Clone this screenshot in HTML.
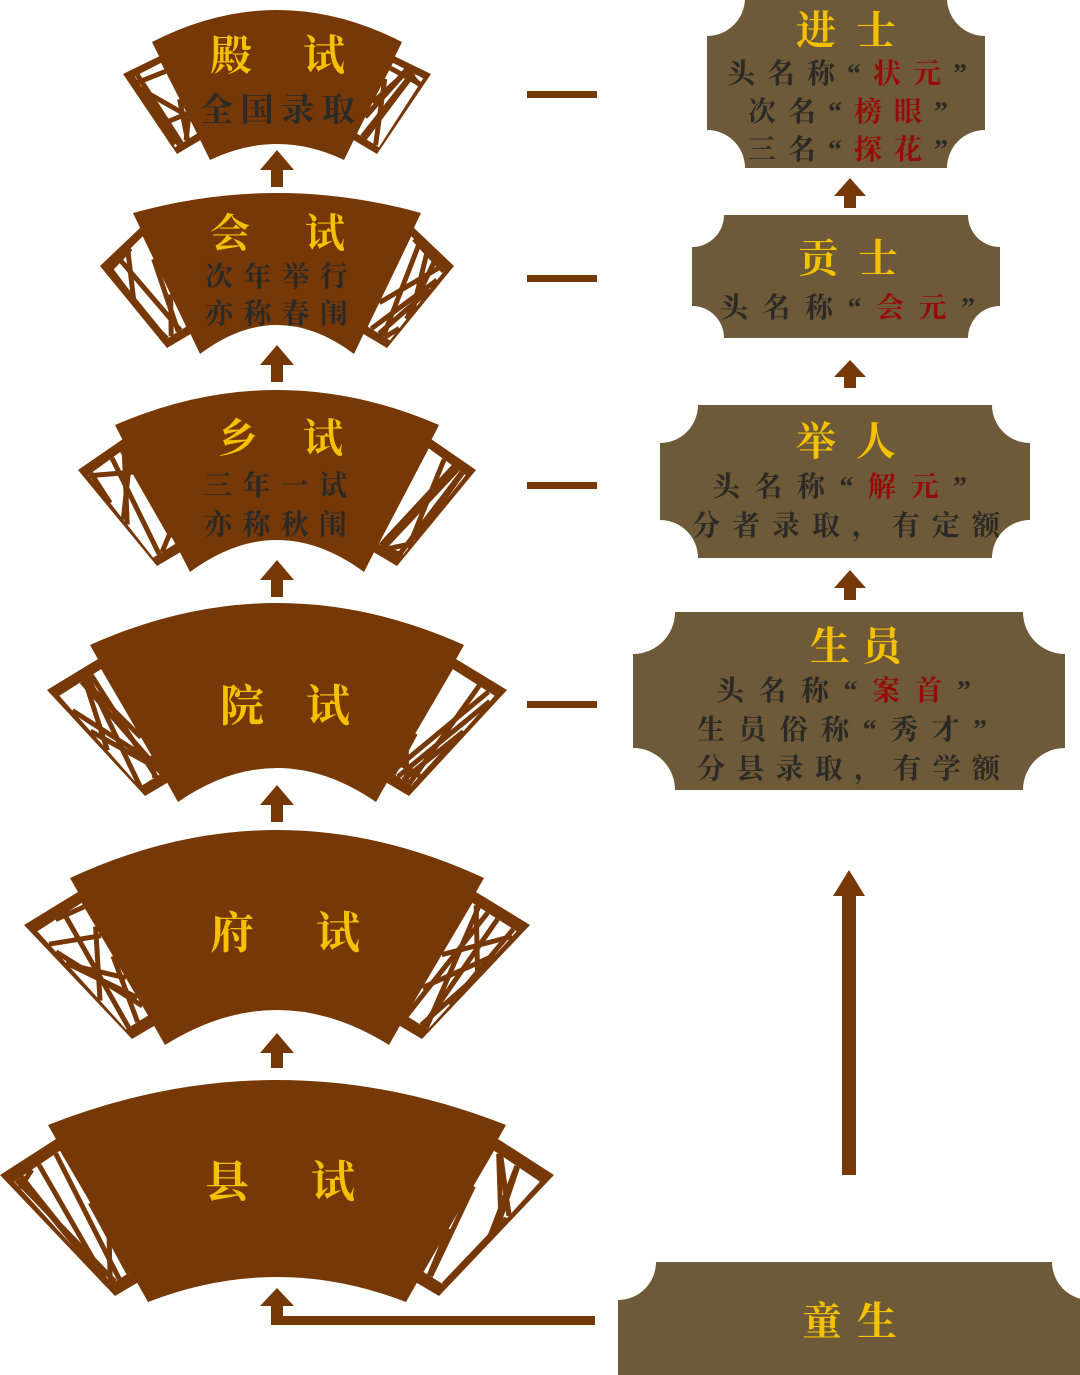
<!DOCTYPE html>
<html><head><meta charset="utf-8"><style>
html,body{margin:0;padding:0;background:#fff;}
svg{display:block;}
text{font-family:"Liberation Serif","Noto Serif CJK SC",serif;font-weight:bold;}
.y{fill:#f5c000;}
.d{fill:#2b2a26;}
.r{fill:#980a0a;}
</style></head><body>
<svg id="s" width="1080" height="1375" viewBox="0 0 1080 1375" xmlns="http://www.w3.org/2000/svg">
<g id="fans"></g>
<g fill="#763807">
<polygon points="277,150 294,170 283,170 283,187 271,187 271,170 260,170" />
<polygon points="277,345 294,365 283,365 283,382 271,382 271,365 260,365" />
<polygon points="277,560 294,580 283,580 283,597 271,597 271,580 260,580" />
<polygon points="277,785 294,805 283,805 283,822 271,822 271,805 260,805" />
<polygon points="277,1033 294,1053 283,1053 283,1068 271,1068 271,1053 260,1053" />
<polygon points="277,1288 294,1306 283,1306 283,1316 595,1316 595,1325 271,1325 271,1306 260,1306" />
<rect x="527" y="91" width="70" height="7"/>
<rect x="527" y="275" width="70" height="7"/>
<rect x="527" y="482" width="70" height="7"/>
<rect x="527" y="701" width="70" height="7"/>
<polygon points="850,178 866,196 856,196 856,208 844,208 844,196 834,196" />
<polygon points="850,360 866,377 856,377 856,388 844,388 844,377 834,377" />
<polygon points="850,570 866,588 856,588 856,600 844,600 844,588 834,588" />
<polygon points="849,870 865,896 856,896 856,1175 842,1175 842,896 833,896" />
</g>
<g fill="#6e5a38" id="boxes"></g>

<text class="y" x="210" y="70" font-size="42" textLength="135" lengthAdjust="spacing">殿试</text>
<text class="d" x="200" y="121" font-size="33" textLength="155" lengthAdjust="spacing">全国录取</text>
<text class="y" x="210" y="247" font-size="40" textLength="135" lengthAdjust="spacing">会试</text>
<text class="d" x="205" y="286" font-size="28" textLength="143" lengthAdjust="spacing">次年举行</text>
<text class="d" x="205" y="323" font-size="28" textLength="143" lengthAdjust="spacing">亦称春闱</text>
<text class="y" x="218" y="452" font-size="40" textLength="125" lengthAdjust="spacing">乡试</text>
<text class="d" x="204" y="495" font-size="28" textLength="143" lengthAdjust="spacing">三年一试</text>
<text class="d" x="204" y="534" font-size="28" textLength="143" lengthAdjust="spacing">亦称秋闱</text>
<text class="y" x="220" y="721" font-size="44" textLength="130" lengthAdjust="spacing">院试</text>
<text class="y" x="210" y="948" font-size="44" textLength="150" lengthAdjust="spacing">府试</text>
<text class="y" x="205" y="1197" font-size="44" textLength="150" lengthAdjust="spacing">县试</text>

<text class="y" x="796" y="44" font-size="40" textLength="100" lengthAdjust="spacing">进士</text>
<text class="d" x="727" y="83" font-size="28" textLength="240" lengthAdjust="spacing">头名称“<tspan class="r">状元</tspan>”</text>
<text class="d" x="748" y="121" font-size="28" textLength="200" lengthAdjust="spacing">次名“<tspan class="r">榜眼</tspan>”</text>
<text class="d" x="748" y="159" font-size="28" textLength="200" lengthAdjust="spacing">三名“<tspan class="r">探花</tspan>”</text>
<text class="y" x="798" y="272" font-size="40" textLength="100" lengthAdjust="spacing">贡士</text>
<text class="d" x="720" y="317" font-size="28" textLength="255" lengthAdjust="spacing">头名称“<tspan class="r">会元</tspan>”</text>
<text class="y" x="796" y="455" font-size="40" textLength="100" lengthAdjust="spacing">举人</text>
<text class="d" x="712" y="496" font-size="28" textLength="255" lengthAdjust="spacing">头名称“<tspan class="r">解元</tspan>”</text>
<text class="d" x="692" y="535" font-size="28" textLength="308" lengthAdjust="spacing">分者录取，有定额</text>
<text class="y" x="810" y="660" font-size="40" textLength="92" lengthAdjust="spacing">生员</text>
<text class="d" x="716" y="700" font-size="28" textLength="255" lengthAdjust="spacing">头名称“<tspan class="r">案首</tspan>”</text>
<text class="d" x="697" y="739" font-size="28" textLength="290" lengthAdjust="spacing">生员俗称“秀才”</text>
<text class="d" x="697" y="778" font-size="28" textLength="303" lengthAdjust="spacing">分县录取，有学额</text>
<text class="y" x="802" y="1335" font-size="40" textLength="95" lengthAdjust="spacing">童生</text>
</svg>
<script>
(function(){
var NS="http://www.w3.org/2000/svg";
var B="#763807",cx=277;
function el(n,a,p){var e=document.createElementNS(NS,n);for(var k in a)e.setAttribute(k,a[k]);p.appendChild(e);return e;}
var bx=document.getElementById('boxes');
function box(x1,y1,x2,y2,r){
 var d="M"+(x1+r)+","+y1+" L"+(x2-r)+","+y1+" A"+r+" "+r+" 0 0 0 "+x2+","+(y1+r)+" L"+x2+","+(y2-r)+" A"+r+" "+r+" 0 0 0 "+(x2-r)+","+y2+" L"+(x1+r)+","+y2+" A"+r+" "+r+" 0 0 0 "+x1+","+(y2-r)+" L"+x1+","+(y1+r)+" A"+r+" "+r+" 0 0 0 "+(x1+r)+","+y1+" Z";
 el('path',{d:d},bx);
}
box(707,-2,985,168,38);
box(692,215,1000,338,32);
box(660,405,1030,558,38);
box(633,612,1065,790,42);
box(618,1262,1090,1420,38);
var g=document.getElementById('fans');
var seed=7;function rnd(){seed=(seed*9301+49297)%233280;return seed/233280;}
function wing(pts){
 el('polygon',{points:pts.map(function(p){return p.join(',')}).join(' '),fill:B},g);
 var c=[0,0];pts.forEach(function(p){c[0]+=p[0]/4;c[1]+=p[1]/4;});
 var inn=pts.map(function(p){return [c[0]+(p[0]-c[0])*0.82,c[1]+(p[1]-c[1])*0.86];});
 el('polygon',{points:inn.map(function(p){return p.join(',')}).join(' '),fill:'#fff'},g);
 function pt(i,t){var a=inn[i],b=inn[(i+1)%4];return [a[0]+(b[0]-a[0])*t,a[1]+(b[1]-a[1])*t];}
 for(var k=0;k<8;k++){
  var i=Math.floor(rnd()*4),j=(i+1+Math.floor(rnd()*3))%4;
  var p=pt(i,rnd()),q=pt(j,rnd());
  el('line',{x1:p[0],y1:p[1],x2:q[0],y2:q[1],stroke:B,'stroke-width':5},g);
 }
}
function fan(xTL,yT,yP,xBL,yB,yBP,wx,wy){
 var xTR=2*cx-xTL,xBR=2*cx-xBL;
 wing([[xTL+8,yT+14],[wx,wy],[xBL-33,yB-6],[xBL-6,yB-22]]);
 wing([[xTR-8,yT+14],[2*cx-wx,wy],[xBR+33,yB-6],[xBR+6,yB-22]]);
 var d="M"+xTL+","+yT+" Q"+cx+","+(2*yP-yT)+" "+xTR+","+yT+" L"+xBR+","+yB+" Q"+cx+","+(2*yBP-yB)+" "+xBL+","+yB+" Z";
 el('path',{d:d,fill:B},g);
}
fan(152,42,10,210,160,144,123,74);
fan(133,213,193,200,354,325,100,266);
fan(115,425,390,190,572,540,78,470);
fan(90,645,603,178,802,768,47,690);
fan(70,878,830,165,1045,1010,24,925);
fan(48,1125,1080,148,1302,1277,0,1175);
})();
</script>
</body></html>
